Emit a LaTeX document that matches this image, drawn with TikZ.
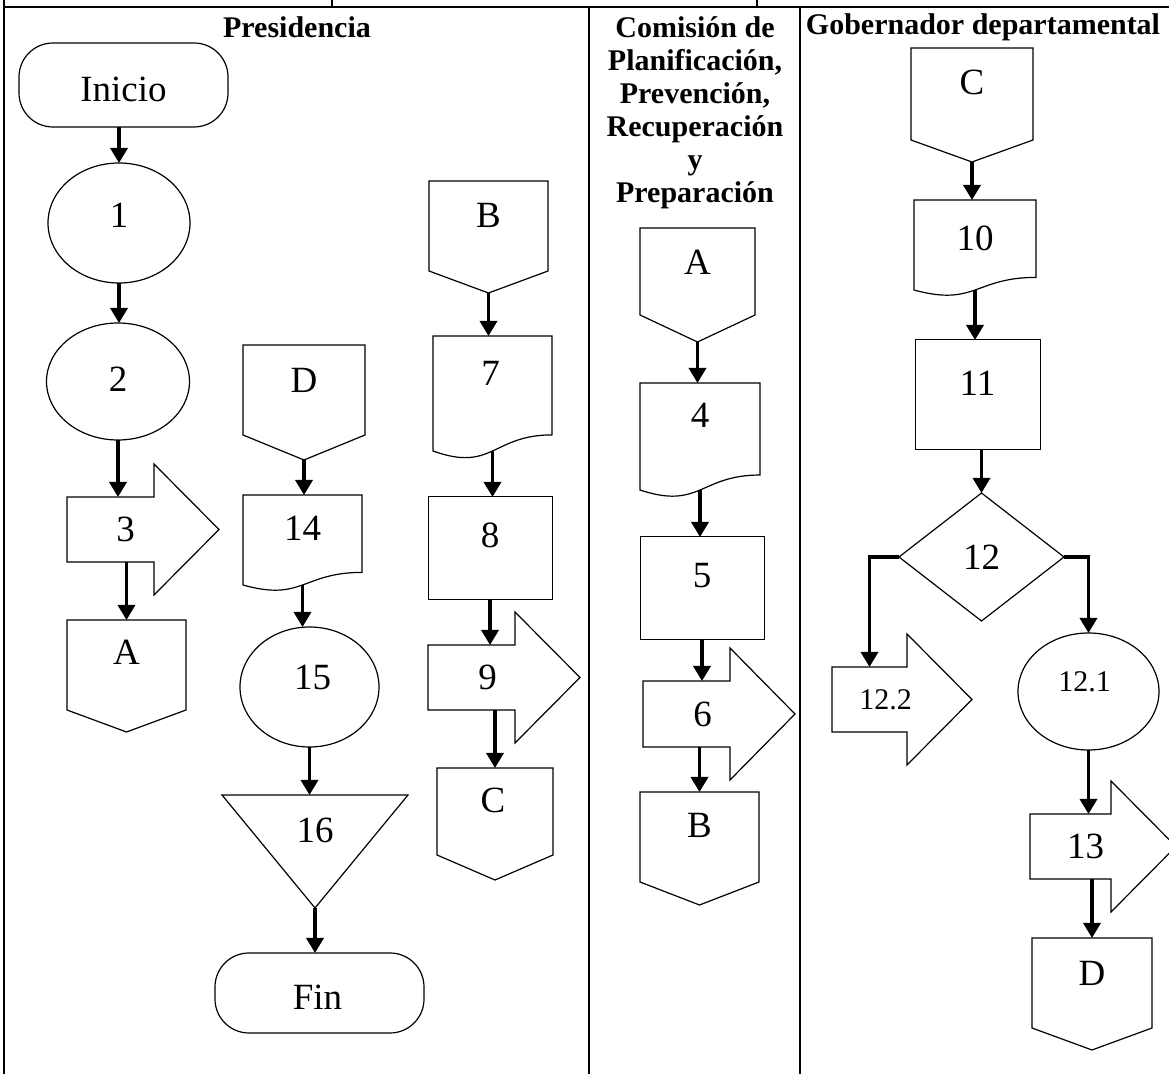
\documentclass[tikz,border=0pt]{standalone}
\usepackage{fontspec}
\setmainfont{Liberation Serif}
\usetikzlibrary{shapes.geometric,arrows.meta,calc}
\newdimen\pxu \pxu=0.5pt
\newcommand\offpage[2]{\draw[shp] (#1.north west) -- (#1.north east) -- ($(#1.south east)+(0,-#2)$) -- (#1.south) -- ($(#1.south west)+(0,-#2)$) -- cycle;}
\newcommand\docpath[2]{\draw[shp] (#1.north west) -- (#1.north east) -- ($(#1.north east)+(0,{0.86*#2})$) .. controls ($(#1.north)+(0,{0.86*#2})$) and ($(#1.north)+(0,{1.187*#2})$) .. (#1.south west) -- cycle;}
\newcommand\blockarrow[1]{\draw[shp] (#1.north west) -- (#1.north east) -- ++(0,-33) -- ($(#1.east)+(65,0)$) -- ($(#1.south east)+(0,33)$) -- (#1.south east) -- (#1.south west) -- cycle;}
\begin{document}
\begin{tikzpicture}[x=0.5pt,y=-0.5pt,
  shp/.style={draw,line width=0.6pt,line join=miter},
  nd/.style={inner sep=0pt,outer sep=0pt},
  sz/.style 2 args={minimum width=#1\pxu,minimum height=#2\pxu},
  lab/.style={font=\fontsize{18.5}{22}\selectfont,inner sep=0pt},
  sml/.style={font=\fontsize{15}{18}\selectfont},
  tx/.style n args={3}{label={[lab,xshift=#2\pxu,yshift=#3\pxu]center:#1}},
  txs/.style n args={3}{label={[lab,sml,xshift=#2\pxu,yshift=#3\pxu]center:#1}},
  rectbox/.style={nd,draw,line width=0.5pt},
  ell/.style={nd,ellipse,draw,line width=0.6pt},
  term/.style={nd,draw,rounded corners=17pt,line width=0.6pt},
  conn/.style={line width=1.7pt,-{Triangle[length=7.5pt,width=8.5pt]}},
  lane/.style={line width=0.8pt},
  hdr/.style={font=\fontsize{15}{16.5}\selectfont\bfseries,align=center,inner sep=0pt}]
\useasboundingbox (0,0) rectangle (1169,1074);
% lanes
\draw[lane] (4,0) -- (4,1074);
\draw[lane] (4,7) -- (1169,7);
\draw[lane] (332,0) -- (332,7);
\draw[lane] (757,0) -- (757,7);
\draw[lane] (589,7) -- (589,1074);
\draw[lane] (800,7) -- (800,1074);
% headers
\node[hdr] (hP) at (297,27) {Presidencia};
\node[hdr] (hC) at (695,113) {Comisión de\\Planificación,\\Prevención,\\Recuperación\\y\\Preparación};
\node[hdr] (hG) at (983,27) {Gobernador departamental};
% Presidencia
\node[term,sz={209}{84},tx={Inicio}{0}{-4}] (ini) at (123.5,85) {};
\node[ell,sz={142}{120},tx={1}{0}{8}] (c1) at (119,223) {};
\node[ell,sz={143}{117},tx={2}{0}{2}] (c2) at (118,381.5) {};
\node[nd,sz={87}{65},tx={3}{15}{0}] (s3) at (110.5,529.5) {}; \blockarrow{s3}
\node[nd,sz={119}{112},tx={A}{0}{24}] (A1) at (126.5,676) {}; \offpage{A1}{22}
\node[nd,sz={122}{115},tx={D}{0}{22}] (D1) at (304,402.5) {}; \offpage{D1}{25}
\node[nd,sz={119}{90},tx={14}{0}{12}] (d14) at (302.5,540) {}; \docpath{d14}{90}
\node[ell,sz={139}{120},tx={15}{3}{10}] (c15) at (309.5,687) {};
\node[nd,sz={186}{113},tx={16}{0}{21}] (t16) at (315,851.5) {};
\draw[shp] (t16.north west) -- (t16.north east) -- (t16.south) -- cycle;
\node[term,sz={209}{80},tx={Fin}{-2}{-4}] (fin) at (319.5,993) {};
\node[nd,sz={119}{112},tx={B}{0}{22}] (B1) at (488.5,237) {}; \offpage{B1}{22}
\node[nd,sz={119}{115},tx={7}{-2}{20}] (d7) at (492.5,393.5) {}; \docpath{d7}{115}
\node[rectbox,sz={124}{103},tx={8}{0}{13}] (r8) at (490,548.5) {};
\node[nd,sz={87}{65},tx={9}{16}{0}] (s9) at (471.5,677.5) {}; \blockarrow{s9}
\node[nd,sz={116}{112},tx={C}{-2}{24}] (C1) at (495,824) {}; \offpage{C1}{25}
% Comision
\node[nd,sz={115}{114},tx={A}{0}{23}] (A2) at (697.5,285) {}; \offpage{A2}{27}
\node[nd,sz={120}{107},tx={4}{0}{21}] (d4) at (700,436.5) {}; \docpath{d4}{107}
\node[rectbox,sz={124}{103},tx={5}{0}{13}] (r5) at (702,588.5) {};
\node[nd,sz={87}{66},tx={6}{16}{0}] (s6) at (686.5,714) {}; \blockarrow{s6}
\node[nd,sz={119}{113},tx={B}{0}{23}] (B2) at (699.5,848.5) {}; \offpage{B2}{23}
% Gobernador
\node[nd,sz={122}{114},tx={C}{0}{23}] (C2) at (972,105) {}; \offpage{C2}{22}
\node[nd,sz={122}{90},tx={10}{0}{7}] (d10) at (975,245) {}; \docpath{d10}{90}
\node[rectbox,sz={125}{110},tx={11}{0}{12}] (r11) at (977.5,395) {};
\node[nd,sz={165}{128},tx={12}{0}{0}] (dm12) at (981.5,557) {};
\draw[shp] (dm12.north) -- (dm12.east) -- (dm12.south) -- (dm12.west) -- cycle;
\node[nd,sz={75}{65},txs={12.2}{16}{0}] (s122) at (869.5,699.5) {}; \blockarrow{s122}
\node[ell,sz={141}{117},txs={12.1}{-4}{10}] (c121) at (1088.5,691.5) {};
\node[nd,sz={81}{65},tx={13}{15}{0}] (s13) at (1070.5,846.5) {}; \blockarrow{s13}
\node[nd,sz={120}{112},tx={D}{0}{21}] (D2) at (1092,994) {}; \offpage{D2}{22}
% connectors
\draw[conn] (ini.south -| c1.north) -- (c1.north);
\draw[conn] (c1.south) -- (c1.south |- c2.north);
\draw[conn] (c2.south) -- (c2.south |- s3.north);
\draw[conn] (A1.north |- s3.south) -- (A1.north);
\draw[conn] (D1.south) -- (D1.south |- d14.north);
\draw[conn] (d14.south) -- (d14.south |- c15.north);
\draw[conn] (c15.south) -- (c15.south |- t16.north);
\draw[conn] (t16.south) -- (t16.south |- fin.north);
\draw[conn] (B1.south) -- (B1.south |- d7.north);
\draw[conn] (d7.south) -- (d7.south |- r8.north);
\draw[conn] (r8.south) -- (r8.south |- s9.north);
\draw[conn] (C1.north |- s9.south) -- (C1.north);
\draw[conn] (A2.south) -- (A2.south |- d4.north);
\draw[conn] (d4.south) -- (d4.south |- r5.north);
\draw[conn] (r5.south) -- (r5.south |- s6.north);
\draw[conn] (B2.north |- s6.south) -- (B2.north);
\draw[conn] (C2.south) -- (C2.south |- d10.north);
\draw[conn] (d10.south) -- (d10.south |- r11.north);
\draw[conn] (dm12.north |- r11.south) -- (dm12.north);
\draw[conn] (dm12.west) -| (s122.north);
\draw[conn] (dm12.east) -| (c121.north);
\draw[conn] (c121.south) -- (c121.south |- s13.north);
\draw[conn] (D2.north |- s13.south) -- (D2.north);
\end{tikzpicture}
\end{document}
